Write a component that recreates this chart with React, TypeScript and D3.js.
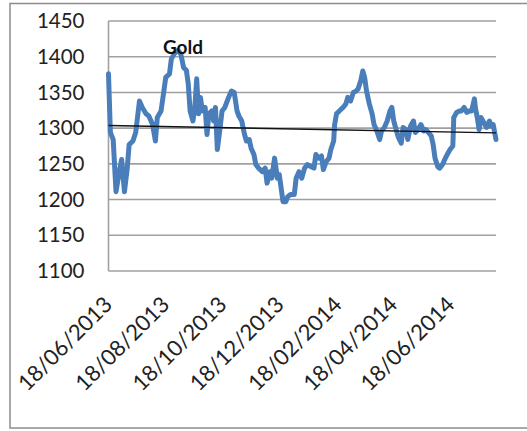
import React from 'react';
import * as d3 from 'd3';

const title = 'Gold';

const dates: string[] = [
  '2013-06-18','2013-06-20','2013-06-23','2013-06-26','2013-06-29','2013-07-02','2013-07-05','2013-07-08','2013-07-10','2013-07-14',
  '2013-07-17','2013-07-21','2013-07-24','2013-07-28','2013-07-31','2013-08-04','2013-08-07','2013-08-09','2013-08-13','2013-08-16',
  '2013-08-18','2013-08-22','2013-08-24','2013-08-27','2013-08-31','2013-09-03','2013-09-06','2013-09-09','2013-09-11','2013-09-13',
  '2013-09-16','2013-09-18','2013-09-20','2013-09-22','2013-09-24','2013-09-26','2013-09-29','2013-10-01','2013-10-03','2013-10-06',
  '2013-10-08','2013-10-10','2013-10-12','2013-10-15','2013-10-17','2013-10-20','2013-10-24','2013-10-27','2013-10-30','2013-11-02',
  '2013-11-04','2013-11-07','2013-11-10','2013-11-12','2013-11-15','2013-11-17','2013-11-20','2013-11-22','2013-11-25','2013-11-29',
  '2013-12-02','2013-12-04','2013-12-07','2013-12-09','2013-12-12','2013-12-15','2013-12-17','2013-12-19','2013-12-21','2013-12-24',
  '2013-12-26','2013-12-29','2014-01-02','2014-01-04','2014-01-07','2014-01-10','2014-01-13','2014-01-16','2014-01-20','2014-01-23',
  '2014-01-25','2014-01-28','2014-01-31','2014-02-02','2014-02-05','2014-02-08','2014-02-10','2014-02-13','2014-02-14','2014-02-16',
  '2014-02-19','2014-02-23','2014-02-26','2014-02-28','2014-03-03','2014-03-06','2014-03-09','2014-03-11','2014-03-14','2014-03-16',
  '2014-03-18','2014-03-20','2014-03-23','2014-03-26','2014-03-28','2014-03-31','2014-04-03','2014-04-05','2014-04-08','2014-04-11',
  '2014-04-14','2014-04-16','2014-04-18','2014-04-21','2014-04-23','2014-04-26','2014-04-28','2014-05-01','2014-05-03','2014-05-06',
  '2014-05-09','2014-05-11','2014-05-14','2014-05-17','2014-05-20','2014-05-22','2014-05-25','2014-05-28','2014-05-30','2014-06-01',
  '2014-06-04','2014-06-06','2014-06-09','2014-06-12','2014-06-14','2014-06-17','2014-06-20','2014-06-21','2014-06-24','2014-06-27',
  '2014-06-29','2014-07-02','2014-07-05','2014-07-07','2014-07-10','2014-07-13','2014-07-14','2014-07-16','2014-07-18','2014-07-20',
  '2014-07-23','2014-07-26','2014-07-29','2014-07-31','2014-08-02','2014-08-05',
];

const prices: number[] = [
  1376,1294,1284,1211,1235,1256,1211,1244,1277,1282,
  1294,1338,1329,1320,1317,1305,1282,1315,1324,1352,
  1371,1376,1397,1404,1409,1404,1385,1381,1362,1324,
  1310,1329,1369,1320,1343,1324,1329,1291,1320,1324,
  1310,1329,1270,1301,1324,1329,1343,1352,1350,1324,
  1317,1310,1291,1282,1284,1272,1263,1249,1244,1239,
  1244,1223,1239,1230,1258,1230,1235,1216,1197,1197,
  1204,1207,1207,1230,1239,1230,1244,1249,1246,1244,
  1263,1258,1261,1242,1253,1258,1270,1282,1305,1320,
  1324,1329,1334,1343,1338,1350,1352,1355,1367,1380,
  1371,1352,1334,1320,1305,1296,1284,1296,1301,1310,
  1324,1329,1310,1296,1287,1279,1301,1298,1284,1303,
  1310,1294,1298,1305,1296,1298,1294,1289,1277,1258,
  1246,1244,1249,1258,1263,1270,1275,1315,1322,1324,
  1324,1329,1322,1324,1324,1341,1329,1315,1298,1315,
  1308,1301,1310,1303,1305,1284,
];

const yTicks: number[] = [1100, 1150, 1200, 1250, 1300, 1350, 1400, 1450];
const xTickDates: string[] = ['2013-06-18', '2013-08-18', '2013-10-18', '2013-12-18', '2014-02-18', '2014-04-18', '2014-06-18'];

export default function App() {
  const W = 527;
  const H = 431;
  const left = 108.5;
  const right = 496;
  const top = 21;
  const bottom = 271;
  const parse = d3.timeParse('%Y-%m-%d');
  const fmt = d3.timeFormat('%d/%m/%Y');
  const data = dates.map((d, i) => ({ date: parse(d) as Date, value: prices[i] }));

  const x = d3.scaleTime()
    .domain([data[0].date, data[data.length - 1].date])
    .range([left, right]);
  const y = d3.scaleLinear().domain([1100, 1450]).range([bottom, top]);

  const line = d3.line<{ date: Date; value: number }>()
    .x(d => x(d.date))
    .y(d => y(d.value));

  // linear trend line (least squares)
  const xs = data.map(d => +d.date);
  const mx = d3.mean(xs) as number;
  const my = d3.mean(prices) as number;
  let num = 0, den = 0;
  xs.forEach((xv, i) => { num += (xv - mx) * (prices[i] - my); den += (xv - mx) * (xv - mx); });
  const slope = num / den;
  const intercept = my - slope * mx;
  const d0 = x.domain()[0], d1 = x.domain()[1];
  const t0 = intercept + slope * +d0;
  const t1 = intercept + slope * +d1;

  const font = 'Lato, "Open Sans", sans-serif';

  return (
    <svg width={W} height={H} style={{ position: 'absolute', left: 0, top: 0, background: '#fff' }}>
      <rect x={0} y={0} width={W} height={H} fill="#fff" />
      <rect x={10} y={3.5} width={W + 20} height={424.5} fill="none" stroke="#8c8c8c" strokeWidth={1.5} />
      {yTicks.map(t => (
        <line key={t} x1={left} x2={right} y1={y(t)} y2={y(t)} stroke="#a0a0a0" strokeWidth={1.6} />
      ))}
      <line x1={left} x2={left} y1={top} y2={bottom} stroke="#a0a0a0" strokeWidth={1.6} />
      {yTicks.map(t => (
        <text key={'l' + t} x={84.5} y={y(t)} dy="0.35em" textAnchor="end" fontFamily={font} fontSize={20.5} fill="#222">
          {t}
        </text>
      ))}
      {xTickDates.map(s => {
        const dt = parse(s) as Date;
        const tx = x(dt);
        return (
          <text key={s} transform={`translate(${tx + 5},${306}) rotate(-45)`} textAnchor="end" fontFamily={font} fontSize={22} fill="#222">
            {fmt(dt)}
          </text>
        );
      })}
      <path d={line(data) || ''} fill="none" stroke="#4a7ebb" strokeWidth={5} strokeLinejoin="round" strokeLinecap="round" />
      <line x1={x(d0)} x2={x(d1)} y1={y(t0)} y2={y(t1)} stroke="#111" strokeWidth={1.4} />
      <text x={183} y={54} textAnchor="middle" fontFamily={font} fontWeight="bold" fontSize={19} fill="#111">
        {title}
      </text>
    </svg>
  );
}
